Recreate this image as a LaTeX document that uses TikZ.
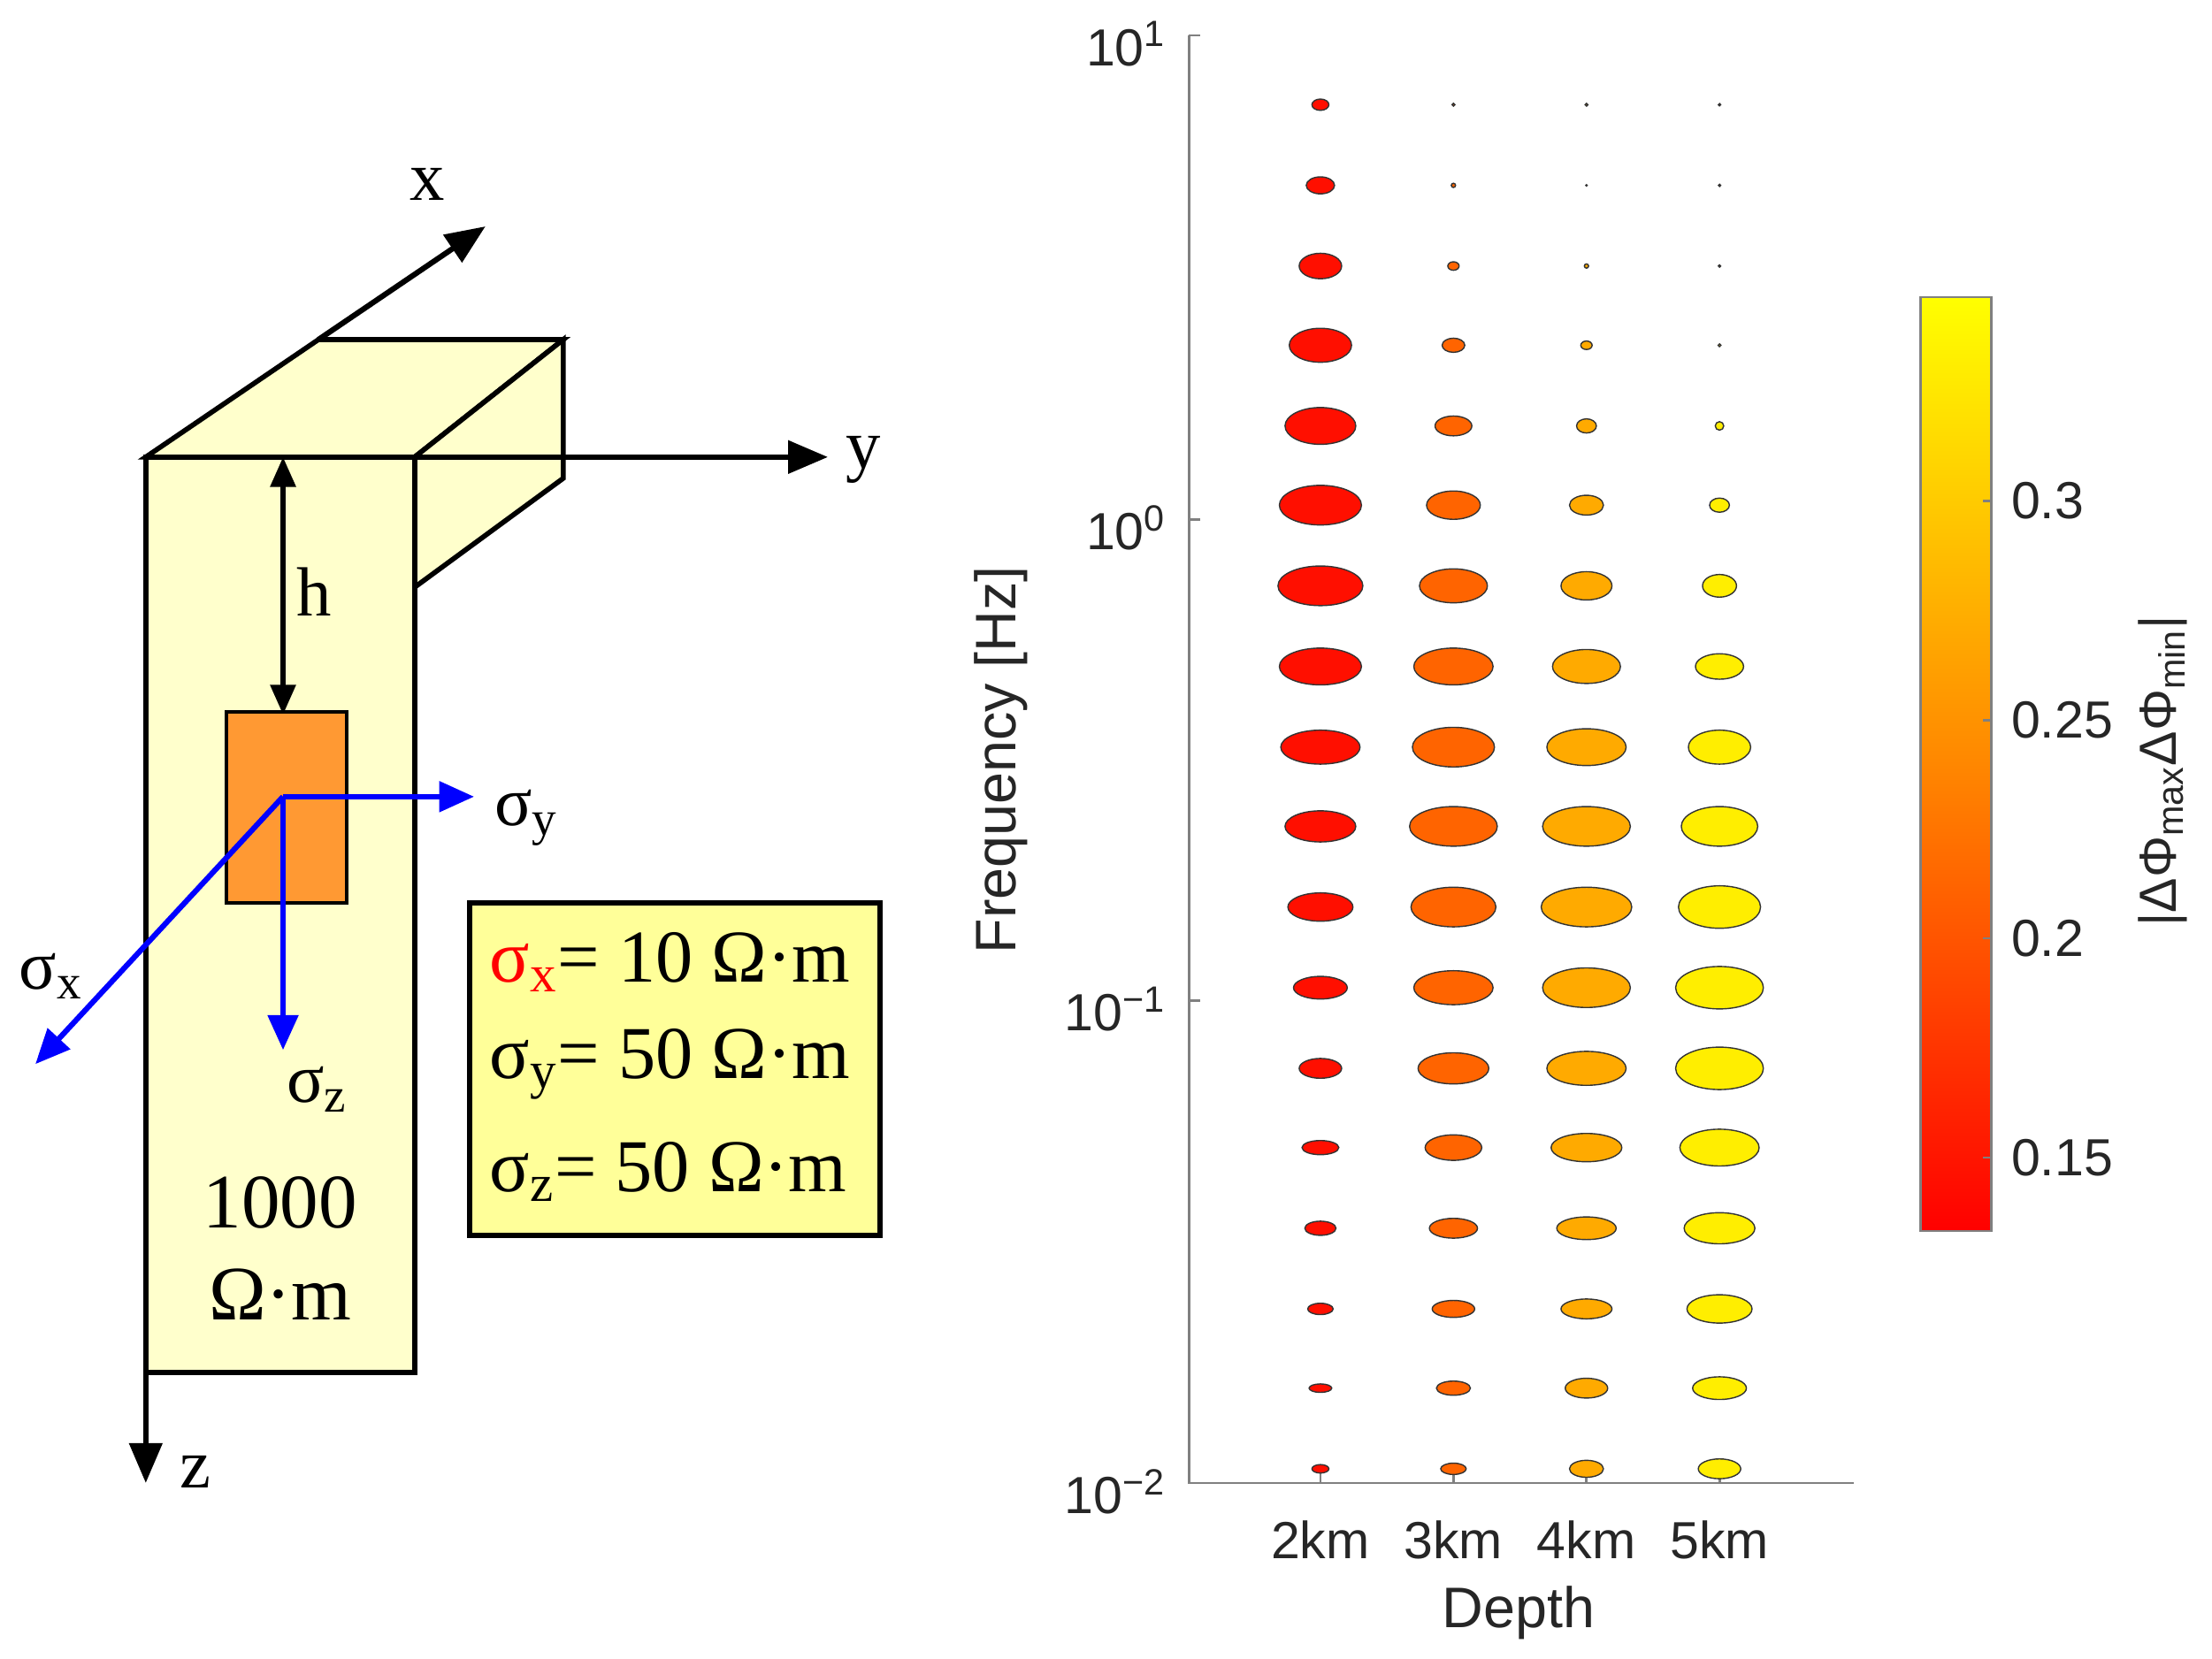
\documentclass[tikz,border=0pt]{standalone}
\usepackage{fontspec}
\setmainfont{Liberation Serif}
\newfontfamily\arialf{Liberation Sans}
\usetikzlibrary{arrows.meta}
\definecolor{boxyel}{RGB}{255,255,204}
\definecolor{legyel}{RGB}{255,255,153}
\definecolor{incl}{RGB}{255,153,51}
\definecolor{axg}{RGB}{128,128,128}
\definecolor{txg}{RGB}{38,38,38}
\definecolor{cA}{RGB}{255,15,0}
\definecolor{cB}{RGB}{255,100,0}
\definecolor{cC}{RGB}{255,170,0}
\definecolor{cD}{RGB}{255,238,0}
\tikzset{
 ax/.style={line width=2.2pt,-{Triangle[length=16pt,width=13pt]}},
 blk/.style={line width=2pt},
 blu/.style={line width=2.2pt,blue,-{Triangle[length=14pt,width=12pt]}},
 lbl/.style={font=\fontsize{28}{30}\selectfont},
 leg/.style={font=\fontsize{30}{32}\selectfont,anchor=west},
 tick/.style={font=\arialf\fontsize{21}{23}\selectfont,text=txg},
 alab/.style={font=\arialf\fontsize{23}{25}\selectfont,text=txg},
 ell/.style={draw=black!80,line width=0.5pt}
}
\begin{document}
\begin{tikzpicture}[x=0.02cm,y=-0.02cm]
\useasboundingbox (0,0) rectangle (1563,1172);
% box
\filldraw[blk,fill=boxyel] (103,323) -- (225,240) -- (398,240) -- (293,323) -- cycle;
\filldraw[blk,fill=boxyel] (293,323) -- (398,240) -- (398,338) -- (293,415) -- cycle;
\filldraw[blk,fill=boxyel] (103,323) rectangle (293,970);
\coordinate (O) at (103,323);
\coordinate (Oz) at (103,970);
\coordinate (Oy) at (293,323);
\coordinate (X) at (343,160);
\coordinate (Y) at (585,323);
\coordinate (Z) at (103,1048);
\draw[ax] (225,240) -- (X);
\draw[ax] (Oy) -- (Y);
\draw[ax] (Oz) -- (Z);
\node[lbl] (lx) at (302,130) {x};
\node[lbl] (ly) at (610,325) {y};
\node[lbl] (lz) at (138,1040) {z};
% h
\coordinate (h1) at (200,323);
\coordinate (h2) at (200,505);
\draw[line width=2pt,{Triangle[length=12pt,width=10pt]}-{Triangle[length=12pt,width=10pt]}] (h1) -- (h2);
\node[lbl] (lh) at (222,418) {h};
\node[draw,line width=1.5pt,fill=incl,minimum width=85*0.02cm,minimum height=135*0.02cm,inner sep=0] (inc) at (202.5,570.5) {};
\coordinate (C) at (200,563);
\coordinate (Sy) at (335,563);
\coordinate (Sz) at (200,742);
\coordinate (Sx) at (25,752);
\draw[blu] (C) -- (Sy);
\draw[blu] (C) -- (Sz);
\draw[blu] (C) -- (Sx);
\node[lbl] (lsy) at (372,578) {σ\textsubscript{y}};
\node[lbl] (lsz) at (224,770) {σ\textsubscript{z}};
\node[lbl] (lsx) at (36,690) {σ\textsubscript{x}};
\node[font=\fontsize{31}{37}\selectfont,align=center] (res) at (198,882) {1000\\Ω·m};
% legend box
\filldraw[line width=2.2pt,fill=legyel] (332,638) rectangle (622,873);
\node[leg] (l1) at (340,680) {\textcolor{red}{σ\textsubscript{x}}= 10 Ω·m};
\node[leg] (l2) at (340,752) {σ\textsubscript{y}= 50 Ω·m};
\node[leg] (l3) at (340,828) {σ\textsubscript{z}= 50 Ω·m};
% plot axes
\draw[axg,line width=1pt] (840,25) -- (840,1048) -- (1310,1048);
\foreach \yy/\e in {25/1,367/0,707/{−1},1048/{−2}}{
 \draw[axg,line width=1pt] (840,\yy) -- (848,\yy);
 \node[tick,anchor=east] at (830,\yy+6) {10\textsuperscript{\e}};
}
\foreach \xx/\t in {933/2km,1027/3km,1121/4km,1215/5km}{
 \draw[axg,line width=1pt] (\xx,1048) -- (\xx,1041);
 \node[tick] at (\xx,1088) {\t};
}
\node[alab] (xl) at (1073,1140) {Depth};
\node[alab,rotate=90] (yl) at (707,537) {Frequency [Hz]};
% ellipses
\def\rows{74,131,188,244,301,357,414,471,528,584,641,698,755,811,868,925,981,1038}
\foreach \rx/\ry [count=\i] in {6/4,10/6,15/9,22/12,25/13,29/14,30/14,29/13,28/12,25/11,23/10,19/8,15/7,13/5,11/5,9/4,8/3,6/3}{
 \pgfmathsetmacro\yy{{\rows}[\i-1]}
 \filldraw[ell,fill=cA] (933,\yy) ellipse [x radius=\rx*0.02cm, y radius=\ry*0.02cm];}
\foreach \rx/\ry [count=\i] in {1/1,1.5/1.5,4/3,8/5,13/7,19/10,24/12,28/13,29/14,31/14,30/14,28/12,25/11,20/9,17/7,15/6,12/5,9/4}{
 \pgfmathsetmacro\yy{{\rows}[\i-1]}
 \filldraw[ell,fill=cB] (1027,\yy) ellipse [x radius=\rx*0.02cm, y radius=\ry*0.02cm];}
\foreach \rx/\ry [count=\i] in {1/1,0.5/0.5,1.5/1.5,4/3,7/5,12/7,18/10,24/12,28/13,31/14,32/14,31/14,28/12,25/10,21/8,18/7,15/7,12/6}{
 \pgfmathsetmacro\yy{{\rows}[\i-1]}
 \filldraw[ell,fill=cC] (1121,\yy) ellipse [x radius=\rx*0.02cm, y radius=\ry*0.02cm];}
\foreach \rx/\ry [count=\i] in {0.8/0.8,0.8/0.8,0.8/0.8,1/1,3/3,7/5,12/8,17/9,22/12,27/14,29/15,31/15,31/15,28/13,25/11,23/10,19/8,15/7}{
 \pgfmathsetmacro\yy{{\rows}[\i-1]}
 \filldraw[ell,fill=cD] (1215,\yy) ellipse [x radius=\rx*0.02cm, y radius=\ry*0.02cm];}
% colorbar
\shade[bottom color=red,top color=yellow,middle color={rgb,255:red,255;green,135;blue,0}] (1357,870) rectangle (1407,210);
\draw[axg,line width=0.8pt] (1357,870) rectangle (1407,210);
\foreach \yy/\v in {818/0.15,663/0.2,509/0.25,354/0.3}{
 \draw[axg,line width=0.8pt] (1407,\yy) -- (1401,\yy);
 \node[tick,anchor=west] at (1415,\yy) {\v};
}
\node[tick,rotate=90] (cbl) at (1528,545) {|ΔΦ\textsubscript{max}ΔΦ\textsubscript{min}|};
\end{tikzpicture}
\end{document}
